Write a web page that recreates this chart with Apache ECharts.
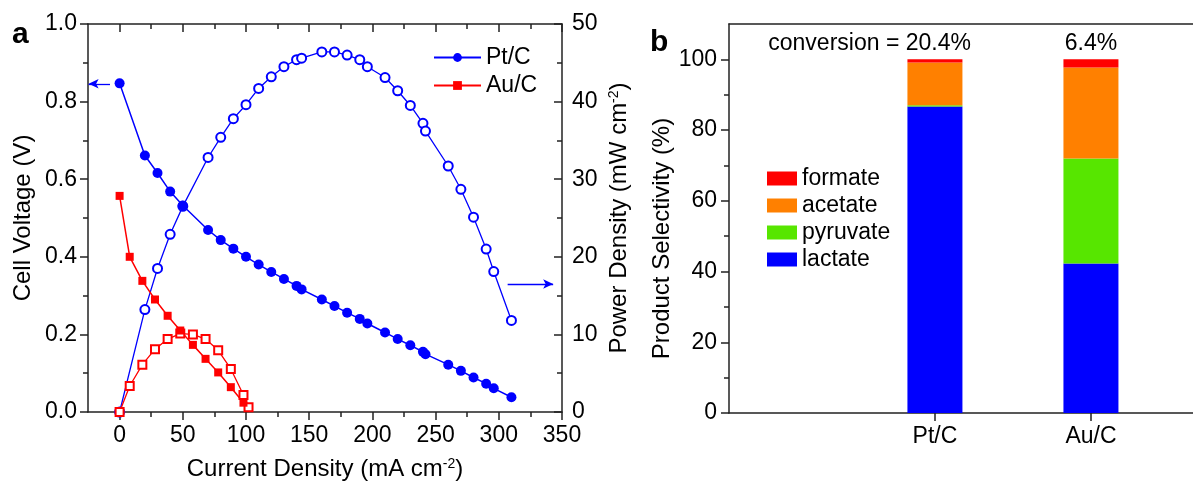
<!DOCTYPE html>
<html>
<head>
<meta charset="utf-8">
<script src="https://cdn.jsdelivr.net/npm/echarts@6/dist/echarts.min.js"></script>
<style>
  html, body { margin: 0; padding: 0; background: #fff; }
  #chart { width: 1193px; height: 481px; }
</style>
</head>
<body>
<div id="chart"></div>
<script>
// panel a - polarization and power curves
const ptCurrent = [0, 20, 30, 40, 50, 70, 80, 90, 100, 110, 120, 130, 140, 144, 160, 170, 180, 190, 196, 210, 220, 230, 240, 242, 260, 270, 280, 290, 296, 310];
const ptVoltage = [0.847, 0.661, 0.616, 0.568, 0.532, 0.469, 0.443, 0.421, 0.400, 0.380, 0.361, 0.343, 0.325, 0.316, 0.290, 0.273, 0.256, 0.240, 0.228, 0.205, 0.188, 0.172, 0.155, 0.149, 0.122, 0.106, 0.089, 0.073, 0.061, 0.038];
const ptPower = [0, 13.2, 18.5, 22.9, 26.5, 32.8, 35.4, 37.8, 39.6, 41.7, 43.2, 44.5, 45.4, 45.6, 46.4, 46.4, 46.0, 45.4, 44.5, 43.1, 41.4, 39.5, 37.2, 36.2, 31.7, 28.7, 25.1, 21.0, 18.1, 11.8];
const auCurrent = [0, 8, 18, 28, 38, 48, 58, 68, 78, 88, 98];
const auVoltage = [0.557, 0.400, 0.338, 0.290, 0.248, 0.210, 0.173, 0.137, 0.102, 0.064, 0.024];
const auPowerCurrent = [0, 8, 18, 28, 38, 48, 58, 68, 78, 88, 98, 102];
const auPower = [0, 3.35, 6.1, 8.1, 9.4, 10.1, 10.0, 9.4, 7.95, 5.55, 2.2, 0.6];
const currentTicks = [0, 50, 100, 150, 200, 250, 300, 350];
const currentMinorTicks = [25, 75, 125, 175, 225, 275, 325];
// arrows pointing at the axis each curve belongs to
const voltageArrow = [[-7.6, 0.846], [-24.5, 0.846]];
const powerArrow = [[307, 16.5], [343, 16.5]];

// panel b - product selectivity
const catalysts = ['Pt/C', 'Au/C'];
const catalystPos = [1, 2];
const lactate = [86.7, 42.3];
const pyruvate = [0.3, 29.7];
const acetate = [12.1, 25.7];
const formate = [0.9, 2.3];
const conversion = [20.4, 6.4];
const selectivityTicks = [0, 20, 40, 60, 80, 100];
const selectivityMinorTicks = [10, 30, 50, 70, 90];

const FONT = 'Liberation Sans, Arial, sans-serif';
const lineStyle = {color: '#222', width: 1.5};
const txt = {color: '#000', fontFamily: FONT};

function pairs(xs, ys) {
  return xs.map((x, i) => [x, ys[i]]);
}

function supRich() {
  return {sup: {fontSize: 14, verticalAlign: 'top', color: '#000', fontFamily: FONT}};
}

// value goes first so the stack is done on y, position second
function barData(vals) {
  return vals.map((v, i) => [v, catalystPos[i]]);
}

let option = {
  animation: false,
  textStyle: {fontFamily: FONT},
  title: [
    {text: 'a', left: 12, top: 20, padding: 0, textStyle: {fontSize: 30, fontWeight: 'bold', ...txt}},
    {text: 'b', left: 650, top: 28, padding: 0, textStyle: {fontSize: 30, fontWeight: 'bold', ...txt}}
  ],
  grid: [
    {left: 88, top: 24, width: 474, height: 388, outerBoundsMode: 'none'},
    {left: 729, top: 24, width: 466, height: 389, outerBoundsMode: 'none'}
  ],
  legend: [
    {
      data: ['Pt/C', 'Au/C'],
      orient: 'vertical', left: 428, top: 41,
      itemWidth: 47, itemHeight: 11, itemGap: 5,
      selectedMode: false,
      textStyle: {fontSize: 23, ...txt}
    },
    {
      data: ['formate', 'acetate', 'pyruvate', 'lactate'],
      orient: 'vertical', left: 762, top: 162,
      icon: 'rect', itemWidth: 30, itemHeight: 14, itemGap: 4,
      selectedMode: false,
      textStyle: {fontSize: 23, ...txt}
    }
  ],
  xAxis: [
    {
      gridIndex: 0, type: 'value', position: 'bottom', min: -25, max: 350,
      axisLine: {show: true, onZero: false, lineStyle: lineStyle},
      axisTick: {show: true, customValues: currentTicks, length: 8, lineStyle: lineStyle},
      axisLabel: {customValues: currentTicks, margin: 12, fontSize: 23, ...txt},
      splitLine: {show: false},
      name: 'Current Density (mA cm{sup|-2})', nameLocation: 'middle', nameGap: 45,
      nameTextStyle: {fontSize: 24, ...txt, rich: supRich()}
    },
    {
      gridIndex: 0, type: 'value', position: 'bottom', min: -25, max: 350,
      axisLine: {show: false, onZero: false},
      axisTick: {show: true, customValues: currentMinorTicks, length: 5, lineStyle: lineStyle},
      axisLabel: {show: false},
      splitLine: {show: false}
    },
    {
      gridIndex: 0, type: 'value', position: 'top', min: -25, max: 350,
      axisLine: {show: true, onZero: false, lineStyle: lineStyle},
      axisTick: {show: true, inside: true, customValues: currentTicks, length: 8, lineStyle: lineStyle},
      axisLabel: {show: false},
      splitLine: {show: false}
    },
    {
      gridIndex: 0, type: 'value', position: 'top', min: -25, max: 350,
      axisLine: {show: false, onZero: false},
      axisTick: {show: true, inside: true, customValues: currentMinorTicks, length: 5, lineStyle: lineStyle},
      axisLabel: {show: false},
      splitLine: {show: false}
    },
    {
      gridIndex: 1, type: 'value', position: 'bottom', min: -0.32, max: 2.667,
      axisLine: {show: true, onZero: false, lineStyle: lineStyle},
      axisTick: {show: true, customValues: catalystPos, length: 8, lineStyle: lineStyle},
      axisLabel: {
        customValues: catalystPos, margin: 12, fontSize: 23, ...txt,
        formatter: v => catalysts[catalystPos.indexOf(v)]
      },
      splitLine: {show: false}
    },
    {
      gridIndex: 1, type: 'value', position: 'top', min: -0.32, max: 2.667,
      axisLine: {show: true, onZero: false, lineStyle: lineStyle},
      axisTick: {show: false},
      axisLabel: {show: false},
      splitLine: {show: false}
    }
  ],
  yAxis: [
    {
      gridIndex: 0, type: 'value', position: 'left', min: 0, max: 1, interval: 0.2,
      axisLine: {show: true, onZero: false, lineStyle: lineStyle},
      axisTick: {show: true, length: 8, lineStyle: lineStyle},
      minorTick: {show: true, splitNumber: 2, length: 5, lineStyle: lineStyle},
      axisLabel: {margin: 11, fontSize: 23, ...txt, formatter: v => v.toFixed(1)},
      splitLine: {show: false},
      minorSplitLine: {show: false},
      name: 'Cell Voltage (V)', nameLocation: 'middle', nameRotate: 90, nameGap: 53,
      nameTextStyle: {fontSize: 24, ...txt}
    },
    {
      gridIndex: 0, type: 'value', position: 'right', min: 0, max: 50, interval: 10,
      axisLine: {show: true, onZero: false, lineStyle: lineStyle},
      axisTick: {show: true, inside: true, length: 8, lineStyle: lineStyle},
      minorTick: {show: true, splitNumber: 2, length: 5, lineStyle: lineStyle},
      axisLabel: {margin: 10, fontSize: 23, ...txt},
      splitLine: {show: false},
      minorSplitLine: {show: false},
      name: 'Power Density (mW cm{sup|-2})', nameLocation: 'middle', nameRotate: 90, nameGap: 45,
      nameTextStyle: {fontSize: 24, ...txt, rich: supRich()}
    },
    {
      gridIndex: 1, type: 'value', position: 'left', min: 0, max: 110,
      axisLine: {show: true, onZero: false, lineStyle: lineStyle},
      axisTick: {show: true, customValues: selectivityTicks, length: 8, lineStyle: lineStyle},
      axisLabel: {customValues: selectivityTicks, margin: 12, fontSize: 23, ...txt},
      splitLine: {show: false},
      name: 'Product Selectivity (%)', nameLocation: 'middle', nameRotate: 90, nameGap: 49,
      nameTextStyle: {fontSize: 24, ...txt, padding: [0, 40, 0, 0]}
    },
    {
      gridIndex: 1, type: 'value', position: 'left', min: 0, max: 110,
      axisLine: {show: false, onZero: false},
      axisTick: {show: true, customValues: selectivityMinorTicks, length: 5, lineStyle: lineStyle},
      axisLabel: {show: false},
      splitLine: {show: false}
    }
  ],
  series: [
    {
      name: 'Pt/C power', type: 'line', xAxisIndex: 0, yAxisIndex: 1,
      data: pairs(ptCurrent, ptPower),
      symbol: 'emptyCircle', symbolSize: 9,
      itemStyle: {color: '#0000FF', borderWidth: 1.5},
      lineStyle: {color: '#0000FF', width: 1.3},
      markLine: {
        silent: true, symbol: ['none', 'arrow'], symbolSize: [7, 10],
        label: {show: false},
        lineStyle: {color: '#0000FF', width: 1.3, type: 'solid'},
        data: [[{coord: powerArrow[0]}, {coord: powerArrow[1]}]]
      }
    },
    {
      name: 'Au/C power', type: 'line', xAxisIndex: 0, yAxisIndex: 1,
      data: pairs(auPowerCurrent, auPower),
      symbol: 'emptyRect', symbolSize: 8,
      itemStyle: {color: '#FF0000', borderWidth: 1.5},
      lineStyle: {color: '#FF0000', width: 1.3}
    },
    {
      name: 'Pt/C', type: 'line', xAxisIndex: 0, yAxisIndex: 0,
      data: pairs(ptCurrent, ptVoltage),
      symbol: 'circle', symbolSize: 10,
      itemStyle: {color: '#0000FF'},
      lineStyle: {color: '#0000FF', width: 1.5},
      markLine: {
        silent: true, symbol: ['none', 'arrow'], symbolSize: [7, 10],
        label: {show: false},
        lineStyle: {color: '#0000FF', width: 1.3, type: 'solid'},
        data: [[{coord: voltageArrow[0]}, {coord: voltageArrow[1]}]]
      }
    },
    {
      name: 'Au/C', type: 'line', xAxisIndex: 0, yAxisIndex: 0,
      data: pairs(auCurrent, auVoltage),
      symbol: 'rect', symbolSize: 8,
      itemStyle: {color: '#FF0000'},
      lineStyle: {color: '#FF0000', width: 1.5}
    },
    {
      name: 'lactate', type: 'bar', xAxisIndex: 4, yAxisIndex: 2, stack: 'sel', barWidth: 55,
      encode: {x: 1, y: 0},
      data: barData(lactate),
      itemStyle: {color: '#0000FF'}
    },
    {
      name: 'pyruvate', type: 'bar', xAxisIndex: 4, yAxisIndex: 2, stack: 'sel', barWidth: 55,
      encode: {x: 1, y: 0},
      data: barData(pyruvate),
      itemStyle: {color: '#57E600'}
    },
    {
      name: 'acetate', type: 'bar', xAxisIndex: 4, yAxisIndex: 2, stack: 'sel', barWidth: 55,
      encode: {x: 1, y: 0},
      data: barData(acetate),
      itemStyle: {color: '#FF8000'}
    },
    {
      name: 'formate', type: 'bar', xAxisIndex: 4, yAxisIndex: 2, stack: 'sel', barWidth: 55,
      encode: {x: 1, y: 0},
      data: barData(formate).map((d, i) => ({
        value: d,
        label: {
          show: true, position: 'top', distance: 4,
          fontSize: 23, ...txt,
          align: i === 0 ? 'right' : 'center',
          offset: i === 0 ? [36, 0] : [0, 0],
          formatter: (i === 0 ? 'conversion = ' : '') + conversion[i] + '%'
        }
      })),
      itemStyle: {color: '#FF0000'}
    }
  ]
};

let chart = echarts.init(document.getElementById('chart'), null, {width: 1193, height: 481});
chart.setOption(option);
</script>
</body>
</html>
